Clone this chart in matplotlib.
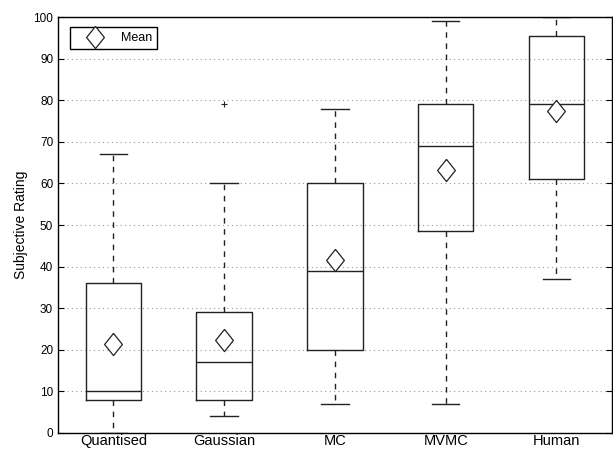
import matplotlib
matplotlib.use("Agg")
import matplotlib.pyplot as plt

plt.rcParams['font.family'] = ['Liberation Sans', 'DejaVu Sans']

labels = ["Quantised", "Gaussian", "MC", "MVMC", "Human"]
q1 = [8, 8, 20, 48.5, 61]
med = [10, 17, 39, 69, 79]
q3 = [36, 29, 60, 79, 95.5]
lo = [0, 4, 7, 7, 37]
hi = [67, 60, 78, 99, 100]
outliers = [[], [79], [], [], []]
means = [21.3, 22.3, 41.5, 63.2, 77.5]

stats = []
for i in range(len(labels)):
    stats.append(dict(label=labels[i], q1=q1[i], med=med[i], q3=q3[i],
                      whislo=lo[i], whishi=hi[i], fliers=outliers[i]))

fig = plt.figure(figsize=(6.13, 4.5), dpi=100)
ax = fig.add_axes([0.0946, 0.0378, 0.9034, 0.9244])

pos = list(range(1, len(labels) + 1))
ax.bxp(stats, positions=pos, widths=0.5, capwidths=0.25, showfliers=True,
       boxprops=dict(color='#222222', linewidth=1),
       medianprops=dict(color='#222222', linewidth=1),
       whiskerprops=dict(color='#222222', linewidth=1, linestyle=(0, (4, 4))),
       capprops=dict(color='#222222', linewidth=1),
       flierprops=dict(marker='+', markeredgecolor='#222222', markersize=4,
                       markeredgewidth=0.8))

diamond = [(0, 1), (0.8, 0), (0, -1), (-0.8, 0), (0, 1)]
ax.plot(pos, means, linestyle='none', marker=diamond, markersize=16,
        markerfacecolor='white', markeredgecolor='#222222',
        markeredgewidth=0.9, label='Mean', zorder=3)

ax.set_xlim(0.5, 5.5)
ax.set_ylim(0, 100)
ax.set_yticks(range(0, 101, 10))
ax.set_xticks(pos)
ax.set_xticklabels(labels, fontsize=10.5)
ax.tick_params(axis='y', labelsize=8.5, direction='in', right=True, length=4)
ax.tick_params(axis='x', length=0, pad=1)
ax.set_ylabel("Subjective Rating", fontsize=10)
ax.yaxis.grid(True, linestyle=(0, (1, 3)), color='#999999', linewidth=0.8)
ax.set_axisbelow(True)
for s in ax.spines.values():
    s.set_linewidth(1)

leg = ax.legend(loc='upper left', fontsize=9, fancybox=False, framealpha=1,
                edgecolor='black', borderpad=0.4, handlelength=3.2,
                handletextpad=0.5, bbox_to_anchor=(0.01, 0.99))
leg.get_frame().set_linewidth(1)

plt.savefig("out.png", dpi=100)
